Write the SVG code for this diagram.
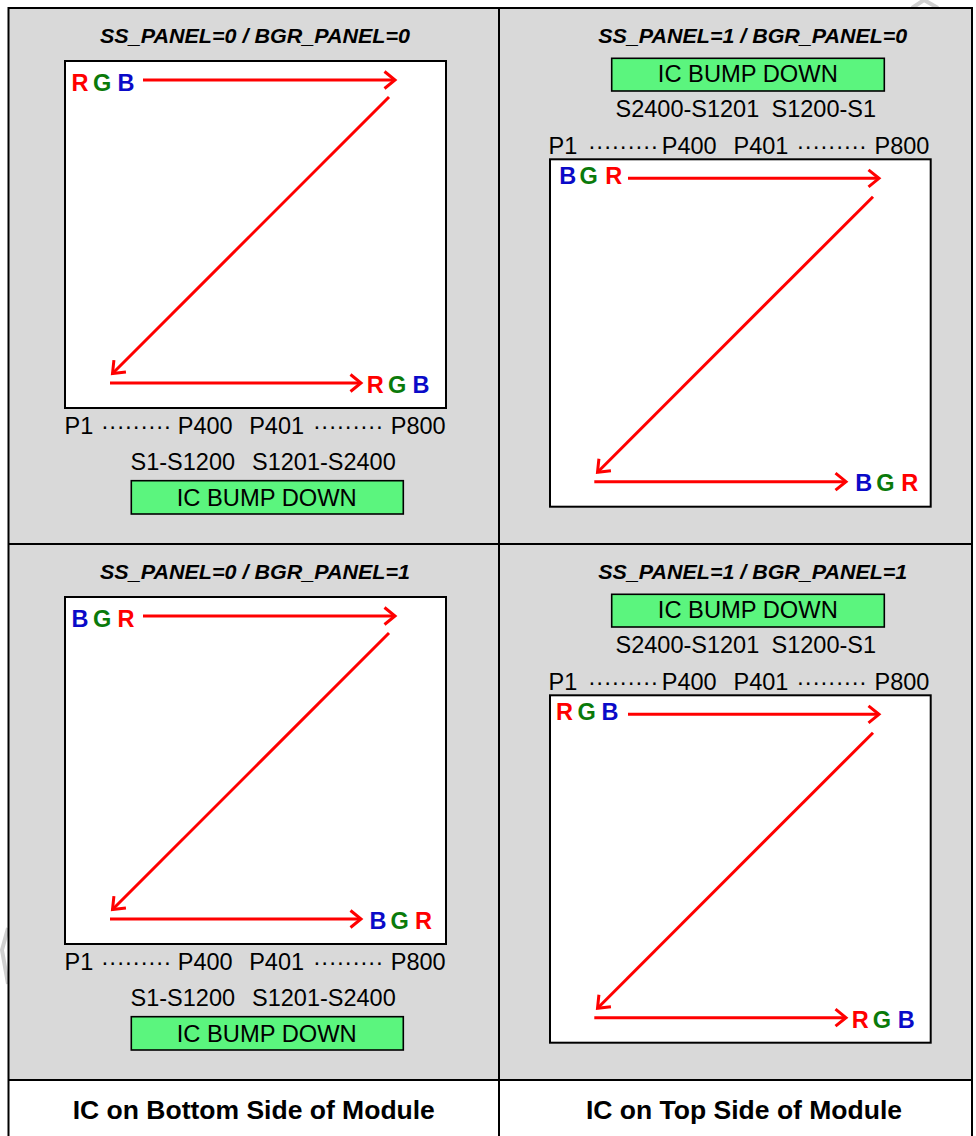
<svg xmlns="http://www.w3.org/2000/svg" width="976" height="1136" viewBox="0 0 976 1136">
<style>
text{font-family:"Liberation Sans",Arial,sans-serif;}
.title{font-size:20px;font-weight:bold;font-style:italic;fill:#000;}
.lbl{font-size:23.5px;fill:#000;}
.bump{font-size:24.5px;fill:#000;}
.rgb{font-size:23.5px;font-weight:bold;}
.r{fill:#FF0000;}
.g{fill:#0A7A0A;}
.b{fill:#0A0AC8;}
.foot{font-size:26.5px;font-weight:bold;fill:#000;}
.box{fill:#FFFFFF;stroke:#000;stroke-width:2;}
.gbox{fill:#5BF57E;stroke:#000;stroke-width:1.6;}
.grid{fill:none;stroke:#000;stroke-width:2;}
.arr{fill:none;stroke:#FF0000;stroke-width:3;marker-end:url(#ah);}
.wm{fill:none;stroke:#D0D0D0;stroke-width:4;}
</style>
<defs>
<marker id="ah" markerUnits="userSpaceOnUse" viewBox="-14 -12 16 24" markerWidth="16" markerHeight="24" refX="0" refY="0" orient="auto" overflow="visible">
<path d="M-10.5,-8.5 L0,0 L-10.5,8.5" fill="none" stroke="#FF0000" stroke-width="3"/>
</marker>
</defs>
<rect x="0" y="0" width="976" height="1136" fill="#FFFFFF"/>
<g id="watermark">
<polyline class="wm" points="912,8 924,0 938,8"/>
<polyline class="wm" points="8,928 2,950 8,984"/>
</g>
<g id="table">
<rect x="8.5" y="8" width="963.5" height="1072" fill="#D9D9D9"/>
<rect x="8.5" y="1080" width="963.5" height="60" fill="#FFFFFF"/>
<rect class="grid" x="8.5" y="8" width="963.5" height="1140"/>
<line class="grid" x1="499" y1="8" x2="499" y2="1140"/>
<line class="grid" x1="8.5" y1="544" x2="972" y2="544"/>
<line class="grid" x1="8.5" y1="1080" x2="972" y2="1080"/>
</g>
<g id="panel-tl">
<text class="title" x="255" y="43" text-anchor="middle" textLength="310" lengthAdjust="spacingAndGlyphs">SS_PANEL=0 / BGR_PANEL=0</text>
<rect class="box" x="65" y="61" width="381" height="347"/>
<text class="rgb" y="91"><tspan class="r" x="71.5">R</tspan><tspan class="g" x="93">G</tspan><tspan class="b" x="117.5">B</tspan></text>
<text class="rgb" y="393"><tspan class="r" x="366.8">R</tspan><tspan class="g" x="388">G</tspan><tspan class="b" x="412.5">B</tspan></text>
<text class="lbl" y="433.5"><tspan x="64.5">P1</tspan><tspan x="101">·········</tspan><tspan x="177.8">P400</tspan><tspan x="249.2">P401</tspan><tspan x="313">·········</tspan><tspan x="390.8">P800</tspan></text>
<text class="lbl" y="469.5"><tspan x="130.5">S1-S1200</tspan><tspan x="252">S1201-S2400</tspan></text>
<rect class="gbox" x="131.3" y="480.7" width="272" height="33.3"/>
<text class="bump" x="266.7" y="505.5" text-anchor="middle" textLength="180" lengthAdjust="spacingAndGlyphs">IC BUMP DOWN</text>
</g>
<g id="panel-bl">
<text class="title" x="255" y="579" text-anchor="middle" textLength="310" lengthAdjust="spacingAndGlyphs">SS_PANEL=0 / BGR_PANEL=1</text>
<rect class="box" x="65" y="597" width="381" height="347"/>
<text class="rgb" y="627"><tspan class="b" x="71.5">B</tspan><tspan class="g" x="93">G</tspan><tspan class="r" x="117.5">R</tspan></text>
<text class="rgb" y="929"><tspan class="b" x="369.5">B</tspan><tspan class="g" x="390.5">G</tspan><tspan class="r" x="415">R</tspan></text>
<text class="lbl" y="969.5"><tspan x="64.5">P1</tspan><tspan x="101">·········</tspan><tspan x="177.8">P400</tspan><tspan x="249.2">P401</tspan><tspan x="313">·········</tspan><tspan x="390.8">P800</tspan></text>
<text class="lbl" y="1005.5"><tspan x="130.5">S1-S1200</tspan><tspan x="252">S1201-S2400</tspan></text>
<rect class="gbox" x="131.3" y="1016.7" width="272" height="33.3"/>
<text class="bump" x="266.7" y="1041.5" text-anchor="middle" textLength="180" lengthAdjust="spacingAndGlyphs">IC BUMP DOWN</text>
</g>
<g id="panel-tr">
<text class="title" x="752.8" y="42.7" text-anchor="middle" textLength="309" lengthAdjust="spacingAndGlyphs">SS_PANEL=1 / BGR_PANEL=0</text>
<rect class="gbox" x="611.7" y="58.3" width="272.6" height="32.7"/>
<text class="bump" x="747.8" y="82" text-anchor="middle" textLength="180" lengthAdjust="spacingAndGlyphs">IC BUMP DOWN</text>
<text class="lbl" y="116.7"><tspan x="615.5">S2400-S1201</tspan><tspan x="771.5">S1200-S1</tspan></text>
<text class="lbl" y="153.5"><tspan x="548.5">P1</tspan><tspan x="588">·········</tspan><tspan x="661.8">P400</tspan><tspan x="733.5">P401</tspan><tspan x="796.5">·········</tspan><tspan x="874.5">P800</tspan></text>
<rect class="box" x="550" y="159.3" width="380.7" height="347.4"/>
<text class="rgb" y="183.5"><tspan class="b" x="559.2">B</tspan><tspan class="g" x="579.5">G</tspan><tspan class="r" x="605.2">R</tspan></text>
<text class="rgb" y="491"><tspan class="b" x="855.2">B</tspan><tspan class="g" x="876.2">G</tspan><tspan class="r" x="901.2">R</tspan></text>
</g>
<g id="panel-br">
<text class="title" x="752.8" y="578.5" text-anchor="middle" textLength="309" lengthAdjust="spacingAndGlyphs">SS_PANEL=1 / BGR_PANEL=1</text>
<rect class="gbox" x="611.7" y="594.3" width="272.6" height="32.7"/>
<text class="bump" x="747.8" y="618" text-anchor="middle" textLength="180" lengthAdjust="spacingAndGlyphs">IC BUMP DOWN</text>
<text class="lbl" y="652.7"><tspan x="615.5">S2400-S1201</tspan><tspan x="771.5">S1200-S1</tspan></text>
<text class="lbl" y="689.5"><tspan x="548.5">P1</tspan><tspan x="588">·········</tspan><tspan x="661.8">P400</tspan><tspan x="733.5">P401</tspan><tspan x="796.5">·········</tspan><tspan x="874.5">P800</tspan></text>
<rect class="box" x="550" y="695.3" width="380.7" height="347.4"/>
<text class="rgb" y="719.5"><tspan class="r" x="556">R</tspan><tspan class="g" x="577.5">G</tspan><tspan class="b" x="601.5">B</tspan></text>
<text class="rgb" y="1027.5"><tspan class="r" x="851.8">R</tspan><tspan class="g" x="872.8">G</tspan><tspan class="b" x="897.8">B</tspan></text>
</g>
<g id="footer-left">
<text class="foot" x="253.8" y="1119.3" text-anchor="middle">IC on Bottom Side of Module</text>
</g>
<g id="footer-right">
<text class="foot" x="744" y="1118.5" text-anchor="middle">IC on Top Side of Module</text>
</g>
<g id="connectors">
<line class="arr" x1="143" y1="80" x2="395" y2="80"/>
<line class="arr" x1="389" y1="97" x2="112.5" y2="373.5"/>
<line class="arr" x1="110" y1="383" x2="361" y2="383"/>
<line class="arr" x1="143" y1="616" x2="395" y2="616"/>
<line class="arr" x1="389" y1="633" x2="112.5" y2="909.5"/>
<line class="arr" x1="110" y1="919" x2="361" y2="919"/>
<line class="arr" x1="628" y1="178.3" x2="879" y2="178.3"/>
<line class="arr" x1="873" y1="196.7" x2="597.5" y2="472.2"/>
<line class="arr" x1="594.3" y1="481.7" x2="846" y2="481.7"/>
<line class="arr" x1="628" y1="714.3" x2="879" y2="714.3"/>
<line class="arr" x1="873" y1="732.7" x2="597.5" y2="1008.2"/>
<line class="arr" x1="594.3" y1="1017.7" x2="846" y2="1017.7"/>
</g>
</svg>
